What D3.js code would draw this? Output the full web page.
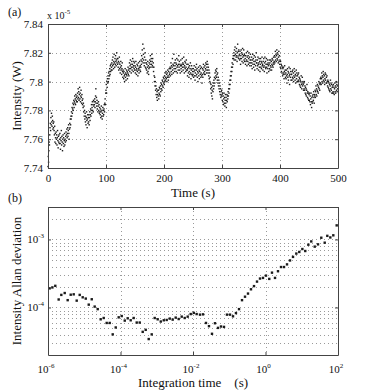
<!DOCTYPE html>
<html>
<head>
<meta charset="utf-8">
<script src="https://cdn.jsdelivr.net/npm/d3@7"></script>
<style>
body { margin: 0; background: #fff; }
svg { display: block; }
text { font-family: "Liberation Serif", "Times New Roman", serif; fill: #111; }
</style>
</head>
<body>
<svg id="chart" width="389" height="391"></svg>
<script>
// panel (a): intensity samples, x 1e-5 W, one every 0.5 s from t = 0
var sampleStep = 0.5;
var intensity = [
7.741,7.748,7.744,7.752,7.758,7.756,7.763,7.768,7.771,7.766,7.775,7.770,7.778,7.772,7.769,7.776,7.773,7.767,7.771,7.768,
7.772,7.766,7.763,7.769,7.758,7.764,7.761,7.757,7.765,7.760,7.763,7.756,7.761,7.766,7.759,7.754,7.762,7.758,7.763,7.757,
7.760,7.764,7.757,7.753,7.761,7.759,7.766,7.756,7.762,7.758,7.752,7.760,7.763,7.757,7.761,7.755,7.759,7.764,7.756,7.760,
7.758,7.762,7.765,7.759,7.763,7.767,7.761,7.764,7.768,7.762,7.766,7.770,7.764,7.760,7.767,7.771,7.768,7.774,7.770,7.776,
7.774,7.779,7.776,7.782,7.778,7.781,7.785,7.780,7.784,7.787,7.782,7.786,7.790,7.785,7.788,7.784,7.791,7.787,7.789,7.786,
7.790,7.786,7.792,7.788,7.795,7.789,7.793,7.787,7.791,7.796,7.788,7.792,7.786,7.790,7.794,7.789,7.785,7.791,7.787,7.784,
7.788,7.782,7.785,7.779,7.783,7.776,7.780,7.774,7.778,7.772,7.776,7.770,7.775,7.779,7.773,7.768,7.774,7.777,7.771,7.775,
7.772,7.777,7.770,7.775,7.779,7.773,7.777,7.781,7.776,7.780,7.784,7.778,7.782,7.786,7.780,7.784,7.779,7.787,7.783,7.786,
7.784,7.788,7.782,7.786,7.790,7.795,7.785,7.789,7.783,7.787,7.781,7.785,7.779,7.783,7.786,7.780,7.784,7.778,7.782,7.779,
7.777,7.781,7.775,7.779,7.783,7.776,7.780,7.774,7.778,7.782,7.776,7.780,7.777,7.781,7.784,7.779,7.785,7.788,7.784,7.792,
7.794,7.798,7.792,7.800,7.796,7.802,7.799,7.804,7.800,7.806,7.802,7.807,7.804,7.809,7.805,7.811,7.807,7.812,7.808,7.810,
7.813,7.808,7.815,7.811,7.817,7.812,7.809,7.814,7.819,7.813,7.810,7.816,7.812,7.818,7.814,7.811,7.815,7.820,7.813,7.816,
7.812,7.816,7.810,7.814,7.808,7.813,7.817,7.809,7.812,7.806,7.810,7.814,7.808,7.811,7.805,7.809,7.813,7.807,7.803,7.808,
7.806,7.802,7.807,7.804,7.800,7.805,7.809,7.803,7.806,7.801,7.805,7.808,7.804,7.807,7.802,7.806,7.810,7.805,7.808,7.804,
7.809,7.813,7.807,7.811,7.815,7.809,7.812,7.806,7.810,7.814,7.808,7.812,7.816,7.810,7.807,7.811,7.814,7.809,7.813,7.808,
7.811,7.806,7.810,7.814,7.808,7.805,7.809,7.812,7.807,7.811,7.804,7.808,7.813,7.809,7.806,7.810,7.814,7.808,7.811,7.807,
7.810,7.815,7.812,7.818,7.814,7.822,7.816,7.826,7.813,7.819,7.815,7.823,7.811,7.817,7.813,7.820,7.810,7.815,7.809,7.813,
7.808,7.812,7.806,7.810,7.814,7.807,7.811,7.805,7.809,7.813,7.810,7.815,7.812,7.818,7.814,7.810,7.816,7.812,7.819,7.814,
7.811,7.816,7.810,7.813,7.807,7.810,7.804,7.800,7.803,7.797,7.800,7.794,7.797,7.791,7.795,7.789,7.793,7.787,7.791,7.794,
7.790,7.794,7.788,7.792,7.796,7.791,7.795,7.790,7.797,7.793,7.799,7.795,7.798,7.794,7.801,7.797,7.800,7.796,7.803,7.799,
7.802,7.798,7.804,7.800,7.806,7.801,7.803,7.807,7.802,7.805,7.800,7.806,7.803,7.808,7.804,7.801,7.807,7.803,7.809,7.805,
7.806,7.810,7.804,7.809,7.813,7.807,7.811,7.805,7.810,7.816,7.808,7.812,7.806,7.811,7.819,7.809,7.813,7.807,7.811,7.815,
7.809,7.813,7.807,7.812,7.816,7.810,7.806,7.811,7.815,7.808,7.812,7.818,7.810,7.814,7.808,7.812,7.806,7.811,7.815,7.809,
7.811,7.807,7.812,7.816,7.810,7.813,7.808,7.812,7.817,7.810,7.806,7.811,7.814,7.809,7.813,7.807,7.810,7.815,7.808,7.812,
7.808,7.804,7.809,7.812,7.806,7.810,7.803,7.807,7.811,7.805,7.809,7.813,7.806,7.802,7.808,7.811,7.805,7.809,7.804,7.807,
7.805,7.809,7.803,7.807,7.811,7.804,7.808,7.801,7.806,7.810,7.804,7.808,7.812,7.805,7.809,7.803,7.807,7.800,7.806,7.810,
7.804,7.808,7.802,7.807,7.811,7.805,7.809,7.803,7.806,7.810,7.804,7.799,7.805,7.809,7.803,7.808,7.812,7.806,7.810,7.805,
7.807,7.811,7.805,7.809,7.813,7.808,7.812,7.806,7.810,7.814,7.808,7.812,7.806,7.810,7.804,7.808,7.802,7.806,7.800,7.803,
7.799,7.795,7.798,7.792,7.796,7.790,7.794,7.788,7.797,7.793,7.799,7.795,7.801,7.797,7.803,7.799,7.806,7.802,7.808,7.804,
7.807,7.803,7.809,7.805,7.801,7.806,7.799,7.803,7.797,7.801,7.795,7.799,7.793,7.797,7.791,7.795,7.789,7.793,7.790,7.794,
7.791,7.787,7.792,7.786,7.790,7.784,7.788,7.792,7.785,7.789,7.783,7.787,7.791,7.785,7.789,7.782,7.787,7.791,7.786,7.790,
7.788,7.793,7.790,7.795,7.792,7.798,7.795,7.801,7.798,7.804,7.801,7.807,7.804,7.810,7.807,7.813,7.810,7.816,7.812,7.818,
7.816,7.820,7.815,7.822,7.818,7.824,7.819,7.815,7.821,7.817,7.823,7.818,7.814,7.820,7.826,7.817,7.821,7.816,7.822,7.818,
7.819,7.815,7.821,7.816,7.812,7.818,7.822,7.816,7.820,7.814,7.819,7.823,7.817,7.813,7.818,7.822,7.815,7.819,7.814,7.818,
7.816,7.812,7.818,7.814,7.820,7.815,7.811,7.817,7.821,7.814,7.818,7.812,7.816,7.820,7.813,7.817,7.811,7.815,7.819,7.813,
7.815,7.811,7.817,7.813,7.809,7.815,7.819,7.812,7.816,7.810,7.814,7.818,7.812,7.808,7.814,7.817,7.811,7.815,7.820,7.813,
7.813,7.809,7.815,7.811,7.817,7.812,7.808,7.813,7.816,7.810,7.814,7.807,7.812,7.816,7.810,7.814,7.809,7.813,7.817,7.811,
7.812,7.808,7.814,7.810,7.816,7.811,7.807,7.813,7.817,7.810,7.814,7.809,7.812,7.816,7.810,7.806,7.812,7.815,7.809,7.813,
7.811,7.807,7.812,7.815,7.809,7.813,7.808,7.811,7.815,7.810,7.814,7.808,7.812,7.816,7.811,7.815,7.810,7.813,7.817,7.812,
7.814,7.818,7.813,7.817,7.821,7.815,7.819,7.814,7.818,7.822,7.816,7.820,7.815,7.819,7.813,7.817,7.821,7.814,7.818,7.812,
7.815,7.810,7.814,7.809,7.812,7.807,7.811,7.806,7.810,7.804,7.809,7.805,7.810,7.806,7.802,7.807,7.811,7.805,7.808,7.803,
7.806,7.802,7.808,7.804,7.799,7.805,7.809,7.803,7.807,7.801,7.806,7.810,7.804,7.798,7.805,7.809,7.803,7.807,7.801,7.805,
7.805,7.801,7.807,7.803,7.808,7.802,7.806,7.800,7.804,7.809,7.803,7.807,7.801,7.805,7.799,7.804,7.808,7.802,7.806,7.800,
7.804,7.800,7.805,7.801,7.806,7.800,7.803,7.798,7.802,7.797,7.801,7.796,7.800,7.804,7.798,7.795,7.799,7.803,7.797,7.800,
7.798,7.794,7.799,7.795,7.800,7.794,7.797,7.792,7.796,7.791,7.795,7.790,7.794,7.798,7.792,7.789,7.793,7.788,7.792,7.787,
7.791,7.787,7.792,7.786,7.790,7.784,7.788,7.792,7.786,7.782,7.789,7.785,7.790,7.786,7.791,7.787,7.793,7.789,7.785,7.791,
7.790,7.794,7.789,7.793,7.797,7.791,7.795,7.790,7.794,7.798,7.793,7.797,7.792,7.796,7.800,7.795,7.799,7.794,7.798,7.802,
7.799,7.803,7.798,7.802,7.806,7.800,7.804,7.799,7.803,7.807,7.801,7.805,7.800,7.804,7.798,7.802,7.806,7.801,7.805,7.799,
7.803,7.799,7.804,7.800,7.797,7.801,7.796,7.800,7.795,7.799,7.794,7.798,7.793,7.797,7.801,7.795,7.799,7.794,7.798,7.792,
7.796,7.792,7.797,7.793,7.798,7.792,7.796,7.791,7.795,7.799,7.793,7.797,7.792,7.796,7.800,7.794,7.798,7.793,7.797,7.795
];
var timeTicks = [0, 100, 200, 300, 400, 500];
var intensityTicks = [7.74, 7.76, 7.78, 7.8, 7.82, 7.84];

// panel (b): Allan deviation vs integration time
var tau = [
1.11e-6,1.32e-6,1.59e-6,1.97e-6,2.33e-6,2.89e-6,3.49e-6,4.23e-6,5.12e-6,6.19e-6,
7.49e-6,9.06e-6,1.10e-5,1.33e-5,1.61e-5,1.94e-5,2.35e-5,2.84e-5,3.44e-5,4.16e-5,
5.04e-5,6.10e-5,7.38e-5,8.92e-5,1.08e-4,1.31e-4,1.58e-4,1.91e-4,2.31e-4,2.80e-4,
3.39e-4,4.10e-4,4.96e-4,6.00e-4,7.26e-4,8.78e-4,1.06e-3,1.29e-3,1.56e-3,1.88e-3,
2.28e-3,2.75e-3,3.33e-3,4.03e-3,4.88e-3,5.90e-3,7.14e-3,8.65e-3,1.05e-2,1.26e-2,
1.56e-2,1.89e-2,2.28e-2,2.76e-2,3.34e-2,4.04e-2,4.89e-2,5.92e-2,7.16e-2,8.66e-2,
0.105,0.127,0.153,0.186,0.225,0.272,0.329,0.398,0.482,0.583,
0.705,0.853,1.03,1.27,1.51,1.83,2.21,2.68,3.24,3.92,
4.74,5.74,7.08,8.55,10.4,12.5,15.2,18.3,22.8,28.1,
34.6,43.0,50.7,61.4,74.2,92.0
];
var allanDev = [
1.91e-4,1.97e-4,2.08e-4,1.31e-4,1.53e-4,1.63e-4,1.28e-4,1.54e-4,1.56e-4,1.26e-4,
1.53e-4,1.41e-4,1.35e-4,1.10e-4,1.32e-4,1.03e-4,9.45e-5,6.70e-5,7.00e-5,5.92e-5,
5.92e-5,4.02e-5,5.08e-5,7.16e-5,7.48e-5,6.41e-5,6.93e-5,6.48e-5,7.00e-5,6.00e-5,
6.00e-5,4.38e-5,4.69e-5,3.43e-5,4.02e-5,7.00e-5,6.70e-5,6.21e-5,6.48e-5,6.55e-5,
6.86e-5,6.63e-5,7.09e-5,6.76e-5,7.33e-5,7.00e-5,7.33e-5,8.00e-5,8.32e-5,8.00e-5,
7.84e-5,7.92e-5,5.92e-5,5.31e-5,4.10e-5,5.86e-5,5.01e-5,5.25e-5,5.18e-5,7.84e-5,
7.84e-5,7.41e-5,8.27e-5,9.45e-5,1.28e-4,1.44e-4,1.60e-4,1.85e-4,2.06e-4,2.40e-4,
2.66e-4,2.72e-4,2.94e-4,2.63e-4,3.25e-4,2.72e-4,3.41e-4,3.93e-4,3.93e-4,4.30e-4,
4.91e-4,5.54e-4,6.20e-4,6.55e-4,7.23e-4,6.76e-4,8.37e-4,9.35e-4,7.84e-4,8.47e-4,
1.06e-3,8.96e-4,1.13e-3,1.07e-3,1.15e-3,1.61e-3
];
var tauTickExp = [-6, -4, -2, 0, 2];
var devTickExp = [-4, -3];
var devGridValues = [3e-5,4e-5,5e-5,6e-5,7e-5,8e-5,9e-5,1e-4,2e-4,3e-4,4e-4,5e-4,6e-4,7e-4,8e-4,9e-4,1e-3,2e-3];

var svg = d3.select("#chart");
var left = 48, right = 338;
var axisColor = "#444";
var gridColor = "#9a9a9a";

function styleAxis(g) {
    g.selectAll("path").attr("stroke", axisColor).attr("stroke-width", 1);
    g.selectAll("line").attr("stroke", axisColor);
    g.selectAll("text").style("font-size", "11px").attr("fill", "#111");
}

function gridLine(g, x1, y1, x2, y2) {
    g.append("line")
        .attr("x1", x1).attr("y1", y1).attr("x2", x2).attr("y2", y2)
        .attr("stroke", gridColor)
        .attr("stroke-width", 1)
        .attr("stroke-dasharray", "1,3");
}

/* ---------- panel (a) ---------- */
var topA = 24, bottomA = 168;
var xA = d3.scaleLinear().domain([0, 500]).range([left, right]);
var yA = d3.scaleLinear().domain([7.74, 7.84]).range([bottomA, topA]);

var gridA = svg.append("g");
timeTicks.slice(1, -1).forEach(function (t) {
    gridLine(gridA, Math.round(xA(t)) + 0.5, topA, Math.round(xA(t)) + 0.5, bottomA);
});
intensityTicks.slice(1, -1).forEach(function (v) {
    gridLine(gridA, left, Math.round(yA(v)) + 0.5, right, Math.round(yA(v)) + 0.5);
});

svg.append("g").selectAll("rect")
    .data(intensity)
    .enter()
    .append("rect")
    .attr("x", function (d, i) { return xA(i * sampleStep) - 0.7; })
    .attr("y", function (d) { return yA(d) - 0.7; })
    .attr("width", 1.4)
    .attr("height", 1.4)
    .attr("fill", "#1a1a1a");

var axA = svg.append("g").attr("transform", "translate(0," + bottomA + ")")
    .call(d3.axisBottom(xA).tickValues(timeTicks).tickSizeInner(-3).tickSizeOuter(0).tickPadding(6));
styleAxis(axA);
var axAt = svg.append("g").attr("transform", "translate(0," + topA + ")")
    .call(d3.axisTop(xA).tickValues(timeTicks).tickSizeInner(-3).tickSizeOuter(0).tickFormat(""));
styleAxis(axAt);
var ayA = svg.append("g").attr("transform", "translate(" + left + ",0)")
    .call(d3.axisLeft(yA).tickValues(intensityTicks).tickSizeInner(-3).tickSizeOuter(0).tickPadding(5)
        .tickFormat(function (d) { return String(+d.toFixed(2)); }));
styleAxis(ayA);
var ayAr = svg.append("g").attr("transform", "translate(" + right + ",0)")
    .call(d3.axisRight(yA).tickValues(intensityTicks).tickSizeInner(-3).tickSizeOuter(0).tickFormat(""));
styleAxis(ayAr);

var expA = svg.append("text").attr("x", left - 1).attr("y", 19).style("font-size", "10px");
expA.append("tspan").text("x 10");
expA.append("tspan").attr("dy", -5).style("font-size", "7px").text("-5");

svg.append("text").attr("x", 8).attr("y", 16).style("font-size", "12px").text("(a)");
svg.append("text")
    .attr("transform", "translate(21," + (topA + bottomA) / 2 + ") rotate(-90)")
    .attr("text-anchor", "middle")
    .style("font-size", "13px")
    .text("Intensity (W)");
svg.append("text").attr("x", (left + right) / 2).attr("y", 197)
    .attr("text-anchor", "middle").style("font-size", "13px").text("Time (s)");

/* ---------- panel (b) ---------- */
var topB = 207, bottomB = 355;
var xB = d3.scaleLog().domain([1e-6, 1e2]).range([left, right]);
var yB = d3.scaleLog().domain([2e-5, 3e-3]).range([bottomB, topB]);

var gridB = svg.append("g");
tauTickExp.slice(1, -1).forEach(function (e) {
    var px = Math.round(xB(Math.pow(10, e))) + 0.5;
    gridLine(gridB, px, topB, px, bottomB);
});
devGridValues.forEach(function (v) {
    var py = Math.round(yB(v)) + 0.5;
    gridLine(gridB, left, py, right, py);
});

svg.append("g").selectAll("rect")
    .data(tau)
    .enter()
    .append("rect")
    .attr("x", function (d) { return xB(d) - 1.2; })
    .attr("y", function (d, i) { return yB(allanDev[i]) - 1.2; })
    .attr("width", 2.4)
    .attr("height", 2.4)
    .attr("fill", "#1a1a1a");

var tauTickValues = tauTickExp.map(function (e) { return Math.pow(10, e); });
var devTickValues = devTickExp.map(function (e) { return Math.pow(10, e); });

var axB = svg.append("g").attr("transform", "translate(0," + bottomB + ")")
    .call(d3.axisBottom(xB).tickValues(tauTickValues).tickSizeInner(-3).tickSizeOuter(0).tickFormat(""));
styleAxis(axB);
var axBt = svg.append("g").attr("transform", "translate(0," + topB + ")")
    .call(d3.axisTop(xB).tickValues(tauTickValues).tickSizeInner(-3).tickSizeOuter(0).tickFormat(""));
styleAxis(axBt);
var ayB = svg.append("g").attr("transform", "translate(" + left + ",0)")
    .call(d3.axisLeft(yB).tickValues(devTickValues).tickSizeInner(-3).tickSizeOuter(0).tickFormat(""));
styleAxis(ayB);
var ayBr = svg.append("g").attr("transform", "translate(" + right + ",0)")
    .call(d3.axisRight(yB).tickValues(devTickValues).tickSizeInner(-3).tickSizeOuter(0).tickFormat(""));
styleAxis(ayBr);

tauTickExp.forEach(function (e) {
    var t = svg.append("text").attr("x", xB(Math.pow(10, e)) - 2).attr("y", 373)
        .attr("text-anchor", "middle").style("font-size", "11px");
    t.append("tspan").text("10");
    t.append("tspan").attr("dy", -5).style("font-size", "7px").text(e);
});
devTickExp.forEach(function (e) {
    var t = svg.append("text").attr("x", left - 4).attr("y", yB(Math.pow(10, e)) + 4)
        .attr("text-anchor", "end").style("font-size", "11px");
    t.append("tspan").text("10");
    t.append("tspan").attr("dy", -5).style("font-size", "7px").text(e);
});

svg.append("text").attr("x", 8).attr("y", 202).style("font-size", "12px").text("(b)");
svg.append("text")
    .attr("transform", "translate(21," + (topB + bottomB) / 2 + ") rotate(-90)")
    .attr("text-anchor", "middle")
    .style("font-size", "13px")
    .text("Intensity Allan deviation");
svg.append("text").attr("x", (left + right) / 2).attr("y", 387)
    .attr("text-anchor", "middle").style("font-size", "13px")
    .attr("xml:space", "preserve")
    .text("Integration time    (s)");
</script>
</body>
</html>
